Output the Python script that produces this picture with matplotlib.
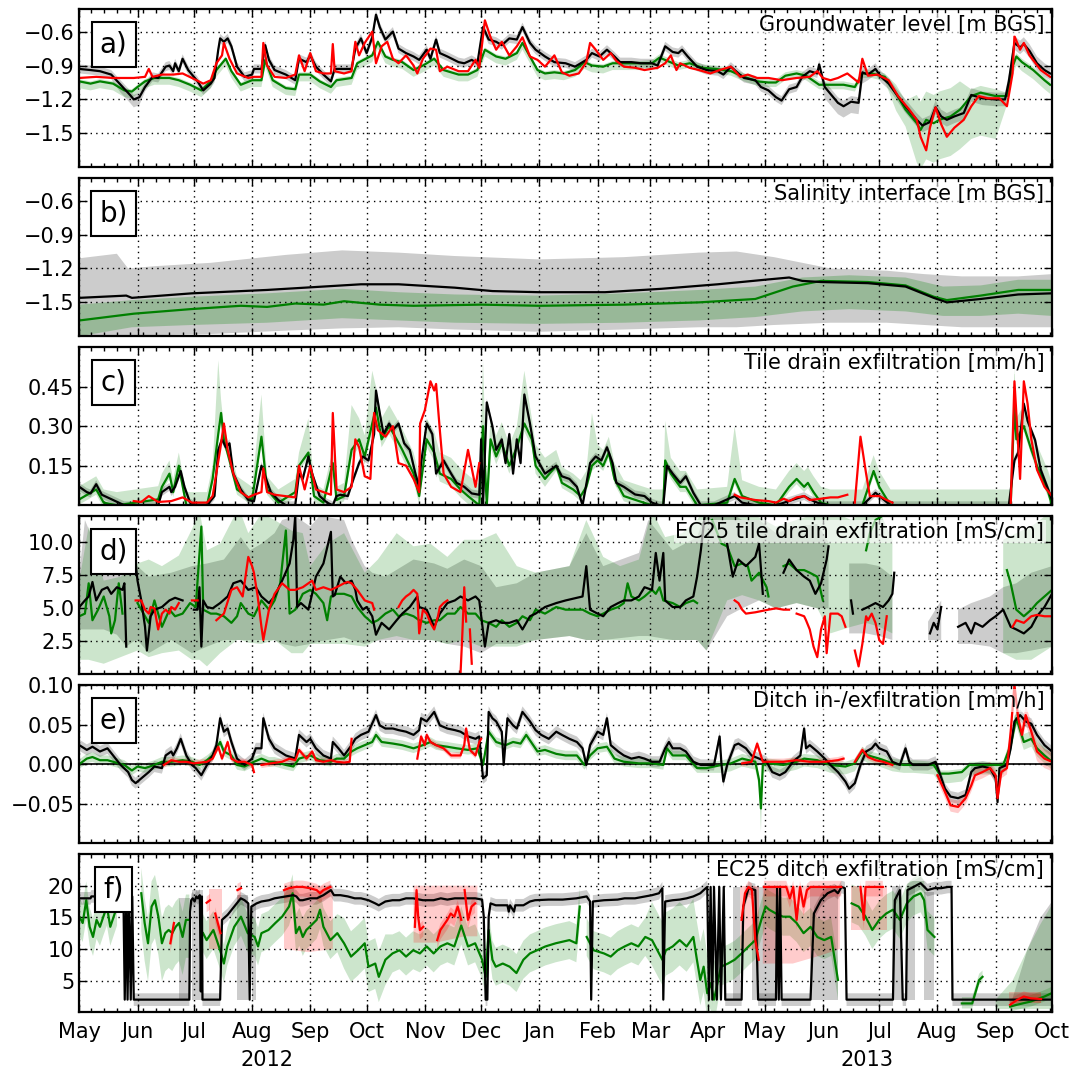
import numpy as np
import matplotlib
matplotlib.use('Agg')
import matplotlib.pyplot as plt
import matplotlib.dates as mdates
import matplotlib.transforms as mtransforms
from datetime import datetime

nan = np.nan

# ---- data: (day since 2012-05-01, value) -------------------------------
# a) groundwater level
a_black = [(0,-0.93),(6,-0.94),(11,-0.95),(17,-0.98),(22,-1.07),(27,-1.16),(29,-1.20),(32,-1.18),(35,-1.09),(39,-1.00),
           (42,-1.01),(46,-0.91),(48,-0.90),(50,-0.95),(51,-0.88),(53,-0.95),(55,-0.84),(58,-0.94),(60,-0.98),(63,-1.04),
           (66,-1.12),(68,-1.09),(70,-1.06),(72,-1.01),(74,-0.76),(75,-0.66),(77,-0.69),(79,-0.66),(81,-0.73),(84,-0.91),
           (88,-1.00),(92,-0.98),(93,-0.93),(97,-0.93),(99,-0.72),(101,-0.85),(104,-0.94),(110,-0.98),(115,-1.03),(117,-0.84),
           (121,-0.87),(123,-0.81),(126,-0.91),(130,-0.98),(134,-1.04),(136,-0.93),(141,-0.93),(145,-0.93),(147,-0.75),(150,-0.66),
           (153,-0.79),(156,-0.65),(158,-0.45),(160,-0.56),(163,-0.67),(167,-0.60),(170,-0.75),(174,-0.79),(178,-0.82),(181,-0.85),
           (185,-0.76),(187,-0.84),(190,-0.67),(192,-0.79),(196,-0.82),(202,-0.87),(205,-0.88),(209,-0.85),(212,-0.88),(215,-0.56),
           (218,-0.67),(222,-0.69),(225,-0.72),(229,-0.66),(233,-0.67),(236,-0.56),(240,-0.70),(243,-0.76),(248,-0.82),(253,-0.87),
           (259,-0.88),(264,-0.91),(270,-0.85),(273,-0.79),(277,-0.82),(281,-0.76),(285,-0.82),(288,-0.87),(294,-0.87),(299,-0.88),
           (305,-0.88),(308,-0.90),(312,-0.73),(316,-0.78),(319,-0.79),(321,-0.76),(324,-0.82),(329,-0.91),(334,-0.94),(340,-0.95),
           (343,-0.98),(347,-0.91),(351,-0.97),(354,-1.01),(360,-1.03),(363,-1.09),(367,-1.12),(371,-1.18),(374,-1.21),(378,-1.11),
           (382,-1.09),(385,-1.00),(389,-0.95),(393,-0.97),(394,-0.89),(397,-1.09),(400,-1.15),(404,-1.23),(407,-1.26),(411,-1.22),
           (415,-1.23),(417,-0.96),(420,-0.98),(424,-0.93),(427,-1.00),(431,-1.06),(435,-1.15),(440,-1.26),(446,-1.38),(449,-1.43),
           (453,-1.40),(456,-1.27),(459,-1.35),(462,-1.38),(466,-1.35),(471,-1.32),(475,-1.16),(481,-1.19),(488,-1.20),(493,-1.20),
           (495,-1.04),(498,-0.70),(501,-0.74),(503,-0.71),(506,-0.77),(510,-0.88),(514,-0.94),(517,-0.97)]
a_red = [(0,-1.01),(9,-1.00),(18,-1.01),(29,-1.01),(35,-1.00),(37,-0.93),(39,-1.00),(44,-0.98),(50,-0.98),(55,-0.97),
         (60,-1.01),(66,-1.06),(70,-1.03),(73,-0.88),(76,-0.81),(77,-0.70),(80,-0.84),(84,-0.97),(90,-1.01),(93,-1.00),
         (97,-1.00),(98,-0.70),(100,-0.90),(104,-1.00),(110,-1.01),(115,-0.98),(117,-0.81),(120,-0.95),(123,-0.79),(126,-0.95),
         (130,-0.97),(134,-0.97),(135,-0.71),(136,-0.95),(141,-0.97),(145,-0.95),(147,-0.69),(149,-0.81),(152,-0.70),(156,-0.60),
         (158,-0.88),(161,-0.73),(164,-0.69),(167,-0.84),(170,-0.88),(174,-0.81),(178,-0.90),(180,-0.97),(183,-0.84),(187,-0.75),
         (190,-0.76),(192,-0.95),(196,-0.91),(202,-0.95),(207,-0.95),(211,-0.85),(213,-0.92),(216,-0.50),(219,-0.65),(222,-0.76),
         (225,-0.69),(229,-0.81),(233,-0.73),(236,-0.65),(240,-0.82),(244,-0.85),(248,-0.91),(253,-0.81),(257,-0.96),(261,-0.99),
         (266,-0.97),(270,-0.87),(272,-0.70),(275,-0.76),(279,-0.85),(283,-0.79),(286,-0.86),(290,-0.91),(296,-0.92),(301,-0.94),
         (308,-0.92),(312,-0.88),(315,-0.81),(318,-0.94),(320,-0.88),(325,-0.92),(330,-0.94),(336,-0.97),(341,-0.94),(347,-0.91),
         (352,-1.00),(356,-0.98),(361,-1.01),(367,-1.01),(374,-1.03),(382,-1.01),(389,-1.00),(393,-0.95),(396,-1.01),(400,-1.03),
         (404,-1.01),(409,-0.97),(415,-1.05),(417,-0.84),(420,-0.99),(425,-0.98),(431,-1.03),(436,-1.17),(442,-1.29),(446,-1.38),
         (448,-1.53),(451,-1.65),(453,-1.45),(456,-1.27),(459,-1.42),(462,-1.53),(466,-1.45),(471,-1.38),(475,-1.26),(479,-1.17),
         (484,-1.19),(490,-1.19),(494,-1.26),(497,-0.97),(498,-0.64),(501,-0.76),(503,-0.70),(506,-0.81),(512,-0.94),(517,-1.00)]
a_green = [(0,-1.04),(6,-1.06),(11,-1.04),(18,-1.06),(24,-1.12),(28,-1.13),(31,-1.09),(35,-1.04),(40,-1.01),(48,-1.01),
           (53,-1.03),(59,-1.07),(65,-1.12),(70,-1.04),(73,-0.94),(78,-0.84),(81,-0.95),(86,-1.07),(92,-1.03),(97,-1.03),
           (99,-0.85),(103,-1.03),(110,-1.10),(115,-1.11),(117,-0.98),(123,-0.98),(128,-1.04),(134,-1.09),(137,-1.03),(145,-1.01),
           (148,-0.88),(156,-0.81),(159,-0.69),(163,-0.82),(167,-0.85),(172,-0.87),(178,-0.94),(183,-0.90),(189,-0.84),(194,-0.94),
           (202,-0.98),(207,-0.98),(212,-0.94),(216,-0.76),(222,-0.82),(227,-0.84),(233,-0.79),(236,-0.70),(240,-0.82),(244,-0.94),
           (248,-0.97),(253,-0.96),(258,-0.97),(264,-0.94),(269,-0.87),(273,-0.90),(279,-0.91),(284,-0.88),(290,-0.88),(299,-0.88),
           (305,-0.88),(309,-0.83),(319,-0.90),(325,-0.88),(332,-0.92),(339,-0.93),(347,-0.95),(354,-1.00),(361,-1.04),(367,-1.05),
           (371,-1.05),(376,-0.99),(382,-0.97),(387,-0.99),(394,-1.07),(400,-1.07),(407,-1.07),(413,-1.09),(417,-0.97),(422,-0.97),
           (429,-1.00),(435,-1.15),(440,-1.29),(446,-1.41),(448,-1.47),(451,-1.38),(455,-1.41),(458,-1.38),(464,-1.35),(469,-1.29),
           (475,-1.17),(480,-1.14),(488,-1.17),(494,-1.17),(497,-0.91),(499,-0.82),(502,-0.87),(508,-0.94),(514,-1.03),(517,-1.07)]
# spread tables: (from day, below, above)
a_black_sd = [(0,0.04,0.04),(20,0.07,0.04),(35,0.04,0.04),(395,0.10,0.05),(418,0.05,0.05),(440,0.06,0.06)]
a_green_sd = [(0,0.06,0.02),(300,0.04,0.03),(430,0.15,0.08),(442,0.35,0.25),(470,0.38,0.06),(494,0.08,0.03)]

# b) salinity interface
b_black = [(0,-1.46),(25,-1.44),(28,-1.46),(60,-1.42),(100,-1.39),(130,-1.36),(150,-1.34),(170,-1.34),(200,-1.37),(220,-1.40),
           (245,-1.41),(280,-1.41),(310,-1.38),(340,-1.34),(365,-1.30),(378,-1.28),(385,-1.31),(395,-1.32),(420,-1.33),(440,-1.36),
           (455,-1.46),(462,-1.50),(480,-1.47),(500,-1.43),(518,-1.42)]
b_green = [(0,-1.66),(29,-1.60),(59,-1.56),(86,-1.53),(100,-1.54),(115,-1.51),(130,-1.52),(141,-1.49),(160,-1.52),(178,-1.53),
           (214,-1.52),(245,-1.53),(290,-1.52),(330,-1.50),(360,-1.47),(380,-1.36),(395,-1.31),(420,-1.32),(440,-1.35),(455,-1.45),
           (462,-1.48),(480,-1.44),(500,-1.39),(518,-1.39)]
b_gray_band = [(0,-1.82,-1.11),(20,-1.82,-1.07),(26,-1.80,-1.20),(40,-1.79,-1.18),(70,-1.78,-1.15),(110,-1.75,-1.08),
               (140,-1.73,-1.04),(170,-1.72,-1.06),(200,-1.74,-1.09),(245,-1.76,-1.12),(290,-1.74,-1.10),(330,-1.72,-1.06),
               (350,-1.72,-1.05),(370,-1.70,-1.10),(400,-1.68,-1.20),(430,-1.68,-1.22),(450,-1.70,-1.25),(470,-1.72,-1.27),
               (500,-1.72,-1.27),(518,-1.72,-1.25)]
b_green_band = [(0,-1.80,-1.52),(28,-1.72,-1.48),(60,-1.70,-1.45),(100,-1.68,-1.42),(140,-1.64,-1.38),(170,-1.66,-1.41),
                (200,-1.68,-1.43),(245,-1.69,-1.44),(290,-1.68,-1.42),(330,-1.66,-1.39),(360,-1.63,-1.36),(385,-1.58,-1.28),
                (410,-1.56,-1.26),(440,-1.58,-1.28),(460,-1.62,-1.36),(480,-1.62,-1.35),(500,-1.60,-1.30),(518,-1.62,-1.30)]

# c) tile drain exfiltration
c_black = [(0,0.07),(4,0.05),(6,0.045),(9,0.08),(12,0.04),(15,0.03),(18,0.02),(21,0.01),(24,0),(42,0),(44,0.05),(48,0.07),
           (49,0.05),(51,0.07),(54,0.13),(56,0.07),(59,0.01),(62,0),(68,0),(72,0.035),(74,0.21),(76,0.25),(78,0.22),(80,0.235),
           (82,0.12),(86,0.06),(90,0.02),(93,0.015),(97,0.15),(99,0.11),(102,0.05),(106,0.02),(110,0),(115,0),(117,0.12),
           (119,0.10),(122,0.185),(124,0.12),(128,0.035),(132,0.01),(135,0),(137,0.035),(139,0.04),(143,0.035),(146,0.10),
           (149,0.16),(151,0.185),(154,0.17),(157,0.27),(158,0.435),(160,0.35),(162,0.27),(165,0.31),(167,0.285),(170,0.31),
           (173,0.235),(176,0.21),(179,0.12),(181,0.07),(182,0.16),(185,0.31),(188,0.27),(190,0.12),(194,0.17),(198,0.12),
           (201,0.085),(205,0.07),(209,0.045),(213,0.04),(214,0.25),(215,0),(217,0.39),(220,0.30),(222,0.21),(225,0.25),
           (227,0.16),(229,0.27),(231,0.12),(233,0.25),(235,0.16),(237,0.42),(240,0.31),(243,0.185),(248,0.12),(254,0.15),
           (257,0.11),(261,0.10),(265,0.07),(268,0),(272,0.16),(275,0.185),(278,0.17),(281,0.22),(284,0.16),(286,0.085),
           (290,0.07),(296,0.041),(301,0.035),(305,0.01),(309,0),(311,0),(313,0.15),(316,0.12),(320,0.085),(323,0.11),
           (327,0.0475),(331,0),(338,0),(349,0.035),(353,0.01),(360,0),(371,0),(386,0.035),(389,0.0225),(393,0.01),(399,0),
           (417,0),(424,0.0475),(432,0),(495,0),(498,0.17),(500,0.20),(503,0.385),(505,0.32),(509,0.2475),(512,0.135),
           (516,0.06),(518,0.02)]
c_green = [(0,0.0225),(9,0.06),(13,0.01),(20,0),(42,0.0225),(44,0.07),(48,0.12),(50,0.05),(53,0.15),(57,0),(68,0),(71,0.10),
           (74,0.27),(75.5,0.35),(77,0.25),(80,0.17),(84,0.06),(92,0.02),(97,0.26),(100,0.06),(106,0.01),(115,0.05),(117,0.15),
           (122,0.20),(125,0.035),(130,0.01),(135,0.16),(137,0.02),(141,0.035),(145,0.21),(149,0.25),(152,0.185),(156,0.31),
           (158,0.37),(161,0.25),(165,0.30),(169,0.25),(172,0.21),(178,0.12),(181,0.035),(185,0.25),(189,0.20),(192,0.12),
           (198,0.10),(203,0.06),(207,0.035),(213,0),(215,0.30),(217,0),(219,0.25),(222,0.185),(225,0.235),(229,0.15),(233,0.22),
           (237,0.31),(241,0.25),(243,0.15),(248,0.10),(254,0.15),(257,0.085),(263,0.06),(267,0.035),(270,0.07),(273,0.15),
           (276,0.17),(279,0.15),(282,0.20),(285,0.10),(290,0.035),(298,0.016),(305,0),(311,0),(312,0.17),(315,0.12),(320,0.07),
           (323,0.07),(329,0),(345,0.01),(349,0.10),(353,0.035),(362,0.01),(371,0),(378,0.07),(382,0.10),(386,0.07),(388,0.085),
           (391,0.05),(395,0.01),(400,0),(417,0),(423,0.13),(426,0.07),(432,0),(496,0),(498,0.385),(499,0.25),(503,0.30),
           (507,0.21),(510,0.15),(516,0.05),(518,0)]
c_red = [(29,0.016),(33,0.0125),(37,0.035),(42,0.0125),(49,0.016),(55,0.03),(60,0.01),(68,0.01),(71,0.035),(75,0.21),
         (77,0.31),(79,0.21),(82,0.12),(86,0.05),(90,0.03),(93,0.04),(97,0.05),(98,0.14),(100,0.05),(104,0.04),(115,0.03),
         (117,0.15),(120,0.06),(123,0.15),(126,0.06),(134,0.04),(135,0.35),(137,0.06),(141,0.05),(145,0.07),(147,0.25),
         (149,0.22),(152,0.11),(155,0.10),(157,0.35),(159,0.285),(163,0.26),(167,0.30),(170,0.16),(174,0.15),(178,0.10),
         (181,0.05),(181.5,0.31),(184,0.36),(187,0.47),(189,0.435),(190,0.46),(192,0.285),(194,0.12),(198,0.07),(203,0.05),
         (207,0.21),(211,0.07),(213,0.16),(214,nan),(349,0.04),(352,0.03),(360,0.02),(367,0.016),(371,0.01),(375,0.025),
         (378,0.016),(382,0.03),(386,0.035),(389,0.02),(395,0.025),(400,0.03),(404,0.03),(409,0.04),(410,nan),(413,0.01),
         (416,0.26),(419,0.12),(421,0.035),(426,0.035),(430,0.02),(433,0.01),(434,nan),(496,0),(498,0.47),(499,0.35),
         (501,0.10),(503,0.47),(505,0.385),(507,0.25),(510,0.135),(514,0.07),(518,0.035)]
c_black_sd = [(0,0.015,0.015)]
c_green_sd = [(0,0.02,0.05),(74,0.02,0.28),(75,0.02,0.05),(97,0.02,0.16),(98,0.02,0.05),(122,0.02,0.13),(123,0.02,0.05),
              (145,0.03,0.17),(146,0.03,0.08),(156,0.03,0.20),(157,0.03,0.08),(215,0.03,0.25),(216,0.03,0.08),
              (237,0.03,0.20),(238,0.03,0.08),(250,0.02,0.06),(273,0.02,0.20),(274,0.02,0.06),(312,0.02,0.15),
              (313,0.02,0.06),(349,0.02,0.20),(350,0.02,0.06),(498,0.02,0.15),(499,0.02,0.08)]

# d) EC25 tile drain exfiltration
d_black = [(0,5.1),(3,5.6),(5,5.9),(7,7.0),(9,5.6),(12,6.4),(15,6.6),(17,6.1),(20,6.6),(23,6.4),(24,6.9),(25,2.1),(26,nan),
           (30,8.4),(31,7.1),(33,5.6),(35,3.6),(36,1.8),(38,4.4),(40,4.9),(44,5.1),(48,5.6),(51,5.8),(55,5.6),(56,nan),
           (61,4.9),(63,4.9),(64,6.6),(65,2.1),(66,5.6),(68,5.1),(71,5.0),(75,5.4),(79,5.9),(82,6.9),(86,7.1),(90,6.4),
           (94,6.6),(97,5.9),(101,5.4),(104,5.9),(108,7.1),(112,8.4),(114,10.2),(115,12.0),(116,5.1),(118,5.4),(122,4.9),
           (124,6.1),(126,7.4),(130,8.4),(134,10.8),(135,5.9),(136,6.0),(139,7.4),(142,6.9),(145,7.1),(147,6.4),(148,5.6),
           (151,4.9),(153,5.1),(156,4.4),(158,3.0),(161,3.9),(165,3.4),(169,4.1),(172,4.6),(176,5.1),(180,5.9),(181,5.1),
           (185,4.9),(189,3.6),(192,4.6),(196,5.4),(200,5.6),(203,5.9),(207,5.6),(211,5.9),(213,5.6),(216,2.1),(218,3.9),
           (222,4.1),(225,3.9),(229,3.9),(233,4.1),(236,3.4),(240,4.4),(243,4.6),(248,5.1),(254,5.4),(259,5.6),(265,5.8),
           (268,5.9),(270,8.2),(272,4.9),(276,4.6),(279,4.4),(283,5.1),(287,5.4),(290,5.6),(294,5.6),(298,5.9),(301,6.6),
           (305,6.4),(307,9.2),(309,7.1),(311,9.2),(312,5.6),(316,5.1),(320,5.1),(323,5.6),(327,5.9),(329,7.4),(331,9.4),
           (333,12.0),(334,nan),(345,9.9),(348,7.4),(351,8.7),(355,8.2),(360,8.9),(362,9.9),(364,6.1),(365,nan),(375,7.7),
           (378,8.7),(382,7.9),(386,7.4),(389,7.1),(392,6.1),(395,6.9),(398,8.7),(399,9.7),(400,nan),(411,5.6),(412,4.6),
           (413,nan),(417,4.9),(420,5.1),(424,5.4),(428,5.1),(431,5.6),(433,6.1),(434,7.7),(435,nan),(453,3.1),(455,3.9),
           (457,3.4),(459,5.1),(460,nan),(468,3.6),(472,3.9),(475,3.1),(477,3.9),(481,3.6),(485,4.1),(488,4.4),(492,4.9),
           (496,3.6),(499,3.4),(503,3.1),(507,3.6),(510,4.4),(514,5.1),(518,6.1)]
d_green = [(0,4.4),(3,4.6),(5,6.9),(7,4.1),(10,4.9),(13,5.9),(16,4.4),(17,3.1),(19,4.1),(21,6.9),(23,4.6),(24,nan),(31,5.4),
           (33,4.9),(37,3.9),(40,5.6),(44,3.6),(48,4.9),(51,4.4),(55,4.6),(59,5.4),(62,5.1),(65,11.2),(66,4.9),(70,4.6),
           (73,4.6),(77,4.4),(81,3.9),(84,4.4),(86,5.4),(90,4.6),(93,4.4),(97,5.6),(101,4.9),(104,5.6),(107,6.9),(110,10.9),
           (112,4.6),(115,4.9),(119,6.1),(123,6.4),(126,6.1),(130,5.4),(132,4.1),(134,5.9),(137,6.1),(141,6.1),(145,5.9),
           (148,5.1),(152,4.4),(156,3.9),(159,4.1),(163,4.6),(167,4.9),(170,4.4),(174,4.6),(178,4.4),(181,4.1),(185,3.9),
           (189,4.1),(192,4.1),(196,4.6),(200,4.6),(203,5.1),(207,4.6),(211,4.6),(214,4.1),(218,3.9),(222,3.6),(225,4.1),
           (229,3.6),(233,3.9),(236,4.4),(240,4.1),(243,4.9),(248,4.6),(254,5.1),(259,4.9),(265,4.9),(268,4.9),(272,4.6),
           (276,4.4),(279,4.6),(283,4.9),(287,5.1),(290,5.4),(292,6.9),(294,5.9),(298,5.6),(301,5.9),(305,6.4),(307,6.1),
           (309,6.6),(311,5.6),(316,5.4),(320,5.1),(323,5.4),(327,5.6),(329,5.4),(330,nan),(337,11.7),(342,9.9),(345,9.7),
           (349,8.2),(353,8.4),(356,8.2),(358,7.1),(362,7.7),(366,6.6),(367,5.9),(368,nan),(375,8.2),(378,8.4),(382,7.9),
           (386,7.9),(389,7.7),(393,7.4),(396,5.6),(397,nan),(419,9.4),(421,10.7),(424,11.7),(430,12.2),(431,nan),(494,7.9),
           (496,6.9),(499,4.9),(503,4.4),(507,4.9),(510,5.4),(514,5.9),(518,6.4)]
d_red = [(30,5.6),(33,5.6),(35,4.9),(37,4.6),(38,5.1),(40,5.0),(42,3.4),(44,4.6),(46,4.9),(48,4.6),(49,5.1),(51,4.9),(53,5.4),
         (54,nan),(60,5.6),(63,5.6),(64,nan),(73,4.1),(77,4.6),(81,6.4),(84,6.6),(87,5.9),(90,8.9),(92,8.2),(93,7.7),(95,5.9),
         (97,3.6),(98,2.6),(101,4.9),(104,6.1),(108,6.9),(112,6.4),(115,6.4),(119,6.6),(122,6.9),(124,7.1),(126,6.4),(130,6.6),
         (134,6.4),(137,6.6),(141,6.9),(143,7.0),(145,6.9),(148,6.4),(152,5.6),(156,5.4),(157,4.9),(158,nan),(170,5.1),
         (172,5.6),(174,5.9),(176,6.1),(178,6.4),(180,6.1),(181,3.1),(183,4.9),(185,4.6),(187,3.9),(189,3.4),(191,4.4),
         (192,5.1),(194,5.4),(196,5.6),(197,nan),(203,0.0),(204,3.1),(205,6.6),(206,4.0),(207,nan),(208,3.4),(209,0.8),
         (210,nan),(349,5.6),(351,5.4),(353,4.9),(355,4.6),(360,4.7),(367,4.9),(371,5.0),(375,4.9),(378,4.9),(379,nan),
         (382,4.6),(386,4.4),(387,4.1),(389,3.4),(391,2.1),(393,1.3),(395,3.4),(397,4.4),(398,1.6),(400,4.6),(404,4.6),
         (406,4.4),(408,3.6),(409,nan),(413,1.8),(415,0.6),(417,2.3),(419,4.4),(420,4.1),(422,4.6),(424,3.9),(426,2.6),
         (428,2.3),(430,4.4),(431,nan),(497,3.6),(499,4.1),(503,3.9),(507,4.4),(510,4.5),(514,4.4),(518,4.4)]
d_gray_band = [(0,3.4,7.6),(3,3.4,11.7),(13,3.4,8.2),(20,3.0,8.4),(25,2.1,9.9),(30,2.6,10.4),(31,2.6,8.2),(37,1.6,7.4),
               (49,2.6,7.7),(60,1.6,8.2),(68,2.1,8.4),(77,2.6,8.7),(86,2.6,10.4),(91,2.6,9.4),(97,2.6,9.9),(104,2.6,10.7),
               (108,2.3,11.7),(115,2.1,12.0),(123,2.3,11.2),(128,2.5,12.0),(141,2.8,11.7),(145,2.6,10.2),(152,2.3,8.2),
               (156,2.5,7.7),(163,2.6,7.4),(178,2.6,8.7),(189,2.6,8.4),(196,2.3,8.0),(205,2.1,8.7),(214,1.6,8.2),
               (222,2.3,6.6),(233,2.3,6.9),(243,2.6,7.7),(261,2.9,8.2),(270,2.6,10.7),(279,2.6,8.2),(298,2.9,9.2),
               (303,2.9,11.7),(316,2.6,9.4),(329,2.6,10.4),(334,1.8,12.4),(345,4.4,12.4),(353,5.0,11.7),(362,5.6,11.7),
               (371,5.0,10.7),(382,5.4,11.2),(393,5.0,11.4),(399,5.0,10.0),(401,nan,nan),(410,3.1,8.4),(419,3.1,8.4),
               (426,2.9,8.2),(433,2.6,7.4),(435,nan,nan),(452,2.6,4.0),(459,2.6,5.6),(460,nan,nan),(468,2.3,4.9),
               (475,2.3,5.4),(485,2.1,5.9),(492,1.6,6.6),(499,1.6,6.9),(507,1.8,7.7),(518,2.1,8.2)]
d_green_band = [(0,1.1,7.1),(5,1.1,11.2),(13,0.8,7.1),(22,1.3,7.4),(31,1.8,8.4),(37,1.3,8.7),(44,1.6,8.2),(53,1.8,9.0),
                (60,1.1,11.0),(64,1.1,12.4),(68,0.6,9.4),(75,1.6,9.9),(84,2.6,12.4),(86,2.6,12.2),(90,2.4,10.7),
                (97,2.3,12.2),(104,2.6,11.7),(113,1.6,10.9),(119,1.6,10.7),(123,2.3,8.2),(132,2.3,9.9),(141,2.3,10.7),
                (152,2.1,7.7),(159,2.6,8.7),(169,2.9,10.7),(178,2.6,9.7),(187,2.6,9.9),(196,2.3,8.9),(205,2.6,10.2),
                (214,2.1,10.2),(222,2.1,10.7),(233,2.1,8.2),(243,2.6,7.7),(261,2.9,8.2),(270,2.6,11.7),(279,2.6,8.9),
                (288,2.6,8.2),(298,2.6,8.7),(305,2.6,12.4),(312,2.6,10.4),(321,2.6,10.7),(329,2.6,11.7),(334,1.8,12.7),
                (345,5.6,12.7),(353,6.0,12.2),(362,5.6,11.9),(371,5.0,11.2),(382,5.4,11.7),(393,5.0,12.2),(400,3.1,12.4),
                (411,3.6,11.7),(419,3.9,12.4),(426,3.6,12.4),(433,3.1,10.2),(435,nan,nan),(492,1.6,10.2),(499,1.1,10.7),
                (507,1.1,11.2),(518,2.1,12.4)]

# e) ditch in-/exfiltration
e_black = [(0,0.024),(4,0.018),(7,0.022),(11,0.016),(15,0.02),(18,0.011),(22,-0.001),(26,-0.01),(28,-0.02),(30,-0.024),
           (33,-0.018),(37,-0.01),(40,-0.003),(44,-0.005),(46,0.011),(49,0.016),(50,0.011),(52,0.02),(54,0.032),(57,0.011),
           (60,-0.001),(62,-0.005),(65,-0.014),(68,-0.001),(71,0.011),(73,0.024),(75,0.058),(77,0.041),(79,0.045),(81,0.028),
           (84,0.007),(88,-0.001),(92,0.007),(94,0.02),(97,0.02),(98,0.058),(101,0.032),(104,0.02),(110,0.011),(115,0.007),
           (117,0.037),(121,0.028),(123,0.032),(126,0.02),(130,0.011),(134,0.007),(135,0.028),(138,0.02),(141,0.011),
           (145,0.024),(147,0.032),(150,0.037),(154,0.041),(158,0.062),(160,0.049),(163,0.045),(167,0.045),(170,0.043),
           (174,0.041),(178,0.037),(181,0.043),(182,0.058),(185,0.054),(189,0.066),(192,0.049),(196,0.045),(200,0.043),
           (203,0.041),(207,0.035),(211,0.032),(213,0.035),(215,-0.018),(217,-0.014),(218,0.066),(220,0.058),(222,0.054),
           (225,0.041),(226,-0.001),(228,0.058),(231,0.049),(233,0.045),(236,0.066),(240,0.054),(243,0.043),(246,0.037),
           (250,0.032),(254,0.041),(257,0.037),(261,0.032),(265,0.028),(268,0.02),(270,-0.001),(272,0.024),(276,0.041),
           (279,0.037),(281,0.058),(283,0.024),(287,0.016),(290,0.011),(294,0.007),(298,0.009),(301,0.007),(305,0.003),
           (309,0.003),(312,0.02),(314,0.028),(316,0.02),(320,0.02),(323,0.016),(327,0.003),(331,-0.001),(334,-0.001),
           (338,-0.001),(341,0.035),(342,-0.001),(343,-0.022),(345,-0.001),(349,0.024),(351,0.026),(355,0.02),(358,0.011),
           (362,0.007),(366,0.003),(369,-0.01),(373,-0.014),(376,-0.01),(380,0.003),(384,0.011),(386,0.045),(387,0.02),
           (389,0.024),(393,0.016),(397,0.007),(400,-0.001),(404,-0.01),(408,-0.022),(410,-0.031),(413,-0.024),(416,-0.001),
           (419,0.016),(422,0.02),(424,0.026),(426,0.02),(430,0.016),(433,0.003),(437,-0.001),(440,0.02),(442,0.003),
           (444,-0.001),(452,-0.001),(456,0.003),(458,-0.01),(461,-0.031),(464,-0.041),(468,-0.043),(472,-0.039),(475,-0.01),
           (477,-0.005),(481,-0.003),(485,-0.005),(488,-0.018),(489,-0.048),(490,-0.005),(494,-0.001),(496,0.02),(498,0.054),
           (501,0.062),(504,0.054),(507,0.051),(510,0.037),(514,0.024),(518,0.016)]
e_green = [(0,0.0),(4,0.007),(7,0.009),(11,0.005),(15,0.005),(18,0.003),(24,-0.001),(28,-0.008),(31,-0.003),(35,-0.005),
           (40,-0.001),(44,0.003),(49,0.003),(55,0.005),(60,0.003),(64,-0.001),(68,0.005),(71,0.011),(75,0.028),(77,0.016),
           (81,0.011),(84,-0.001),(88,-0.003),(93,0.003),(97,0.007),(101,0.003),(104,0.003),(110,-0.001),(114,-0.003),
           (117,0.007),(123,0.011),(128,0.005),(134,0.003),(137,0.007),(141,0.007),(145,0.016),(148,0.02),(152,0.024),
           (156,0.028),(158,0.037),(161,0.028),(167,0.026),(172,0.024),(178,0.02),(183,0.024),(187,0.028),(190,0.024),
           (196,0.022),(201,0.02),(207,0.018),(212,0.02),(215,-0.001),(218,0.041),(222,0.028),(227,0.024),(231,0.028),
           (235,0.026),(238,0.037),(244,0.016),(248,0.018),(254,0.013),(259,0.011),(265,0.011),(269,-0.001),(272,0.011),
           (276,0.02),(281,0.022),(285,0.007),(290,0.003),(298,0.001),(305,0.001),(311,-0.001),(313,0.02),(316,0.011),
           (323,0.011),(329,-0.005),(334,-0.005),(342,-0.001),(347,0.001),(353,0.007),(360,0.003),(362,-0.02),(363,-0.056),
           (364,-0.001),(367,0.001),(375,-0.001),(382,0.003),(386,0.007),(393,0.005),(400,-0.001),(408,-0.003),(413,0.001),
           (417,0.016),(420,0.011),(426,0.007),(433,0.001),(439,-0.001),(444,-0.001),(455,-0.001),(458,-0.012),(463,-0.012),
           (470,-0.01),(474,-0.001),(481,-0.001),(488,-0.001),(492,-0.001),(496,0.024),(499,0.058),(503,0.028),(507,0.032),
           (510,0.02),(514,0.011),(518,0.003)]
e_red = [(45,-0.001),(49,0.005),(53,0.003),(57,0.003),(61,0.001),(68,0.003),(71,0.007),(74,0.022),(76,0.007),(79,0.028),
         (81,0.007),(84,0.003),(88,0.003),(92,-0.001),(93,-0.01),(94,nan),(97,-0.001),(102,0.001),(108,0.003),(112,0.007),
         (115,0.005),(117,0.018),(121,0.007),(124,0.016),(126,0.005),(130,0.003),(134,0.005),(137,0.003),(141,0.002),
         (144,0.003),(145,0.032),(146,nan),(180,0.007),(182,0.035),(184,0.024),(185,0.037),(187,0.028),(190,0.024),
         (194,0.02),(198,0.011),(203,0.011),(205,0.024),(206,0.045),(208,0.018),(211,0.011),(213,0.028),(214,0.032),
         (215,nan),(353,0.001),(358,0.003),(361,0.026),(364,0.003),(369,0.003),(375,0.003),(382,0.005),(389,0.003),
         (397,0.003),(404,0.005),(407,0.007),(408,nan),(413,0.003),(417,0.018),(420,0.009),(424,0.005),(428,0.003),
         (433,-0.001),(434,nan),(457,-0.014),(461,-0.035),(464,-0.052),(468,-0.054),(472,-0.043),(475,-0.027),(477,-0.014),
         (481,-0.01),(485,-0.005),(488,-0.014),(489,-0.043),(491,-0.01),(494,-0.005),(496,0.041),(498,0.10),(500,0.058),
         (502,0.037),(504,0.062),(507,0.041),(510,0.016),(514,0.007),(518,0.003)]
e_black_sd = [(0,0.007,0.007)]
e_green_sd = [(0,0.006,0.006),(340,0.01,0.006),(363,0.03,0.006),(364,0.01,0.006),(455,0.012,0.004),(495,0.01,0.01)]
e_red_sd = [(0,0.004,0.004),(455,0.008,0.008),(495,0.012,0.012)]

# f) EC25 ditch exfiltration
f_black = [(0,18.0),(6,18.0),(6.4,18.3),(12,18.3),(18,18.3),(23.5,18.3),(24.2,2.0),(25,18.8),(25.7,2.0),(26.5,18.8),
           (27.4,2.0),(28.2,18.3),(29,2.0),(58.6,2.0),(59,15.9),(59.6,17.7),(60.4,18.0),(61.4,17.5),(62.3,18.3),(63.2,18.0),
           (64.2,18.5),(64.7,3.3),(65.3,18.3),(65.6,2.0),(75,2.0),(76,14.6),(79,15.4),(82.5,16.7),(86,18.0),(88,17.7),
           (90,17.2),(90.7,2.0),(91.6,16.7),(94.4,17.2),(97,17.5),(101,17.7),(104,18.0),(110,18.3),(114,18.5),(115.6,18.3),
           (117.3,17.7),(119,17.7),(123,18.0),(126.5,18.0),(130,18.5),(134,19.3),(135.6,18.5),(139,18.5),(143,18.3),
           (146.7,18.0),(150,18.0),(154,17.7),(157.6,17.2),(159.5,16.9),(163,17.5),(166.8,17.7),(170.5,17.7),(174,18.0),
           (177.8,18.0),(183,17.7),(188.7,17.7),(192.5,18.0),(196,17.8),(200,18.0),(205,18.0),(210.8,18.0),(214.5,17.8),
           (215.4,15.1),(216.4,2.0),(217.3,2.0),(218,15.1),(219,17.2),(221.8,16.9),(225.5,16.9),(228,16.9),(228.7,15.9),
           (229.4,16.9),(231.5,15.9),(232.2,16.9),(236.5,16.9),(240,17.5),(242.7,17.7),(250,17.8),(257.4,17.8),(264.7,18.0),
           (270.2,18.3),(272,17.5),(272.6,2.0),(273.5,17.5),(279.4,17.7),(286.7,17.8),(290.4,18.0),(295.9,18.0),(301.4,18.3),
           (305,18.5),(308.7,18.8),(310.5,19.6),(311,2.0),(312,17.5),(316,17.7),(319.7,17.8),(323.4,18.0),(327,18.3),
           (330.7,18.8),(332.5,19.3),(334.4,19.8),(335.3,2.0),(336.2,19.8),(337.1,2.0),(338,19.8),(339.5,2.0),(340.8,19.8),
           (341.7,2.0),(343.2,19.8),(344,2.0),(352.7,2.0),(353.6,16.7),(356.4,19.6),(360,19.3),(361.5,2.0),(371,2.0),
           (371.6,19.8),(372.5,2.0),(373.2,19.8),(374,2.0),(389.4,2.0),(391.2,15.6),(394.9,17.7),(398.5,18.8),(402.2,19.3),
           (404,18.8),(405.9,19.8),(407.7,19.6),(408.6,2.0),(433.3,2.0),(434.3,17.7),(437,19.3),(438.5,2.0),(440.3,2.0),
           (441,19.3),(444.3,19.8),(448,20.4),(451.7,19.3),(455.4,19.6),(459,19.6),(462.7,19.8),(464.5,19.8),(465,2.0),
           (490,2.0),(518,2.0)]
f_green = [(0,15.1),(1.8,14.1),(3.7,17.7),(5.5,13.5),(7.3,11.9),(9.2,14.6),(11,13.5),(12.8,15.1),(14.7,16.7),(16.5,13.5),
           (18.3,15.1),(20.1,16.7),(21,nan),(33,18.8),(34.8,14.1),(36.6,10.9),(38.5,16.7),(40.3,17.7),(42.1,15.1),(44,10.9),
           (45.8,12.5),(47.6,13.0),(49.5,12.5),(51.3,13.5),(53.1,14.1),(55,11.9),(56.8,14.6),(58.6,14.6),(59,nan),(65.9,12.5),
           (67.8,11.4),(71.4,13.0),(75,9.8),(77,7.7),(78.8,10.4),(82.5,13.5),(86.1,15.1),(89.7,12.5),(93.4,11.9),(95.2,10.4),
           (97,12.5),(100.7,13.0),(104.4,14.1),(108,15.1),(111.7,16.7),(113.6,18.8),(115.4,12.5),(117.2,13.5),(119,11.9),
           (120.9,13.0),(122.7,13.5),(126.4,14.6),(128.2,16.2),(130,13.5),(133.7,11.4),(137.4,12.5),(141,10.9),(144.7,8.8),
           (148.4,9.8),(152,10.9),(154,7.2),(157.6,7.7),(159.5,5.6),(163,8.3),(166.8,9.3),(170.5,9.8),(174,8.8),(177.8,9.8),
           (181.4,9.3),(185,10.4),(188.7,9.3),(192.3,10.4),(196,10.9),(199.7,10.4),(203.4,13.7),(207,10.4),(210.8,10.9),
           (214.5,8.3),(216.4,5.6),(218,13.0),(220,8.3),(221.8,7.2),(225.5,7.7),(229.2,7.2),(232.8,6.2),(236.5,8.3),(240,9.3),
           (243.8,9.8),(248.2,10.4),(253.7,10.9),(261,11.4),(264.7,10.9),(266.5,16.7),(267,nan),(270.2,11.9),(273.9,9.8),
           (279.4,9.3),(283,8.8),(286.7,9.8),(290.4,10.4),(294,10.9),(297.7,10.4),(301.4,11.9),(305,11.4),(308.7,9.3),
           (310.5,8.3),(312.4,9.8),(316,10.4),(319.7,11.4),(323.4,10.4),(327,11.9),(328.9,8.3),(330.7,5.1),(332.5,7.2),
           (334.4,3.0),(336.2,4.6),(338,2.0),(341.7,7.2),(345.4,7.7),(349,8.3),(352.7,9.3),(356.4,10.4),(360,11.4),(363.7,15.1),
           (365.5,16.7),(367.4,16.2),(371,15.6),(374.7,15.1),(378.4,15.1),(382,14.1),(385.7,12.5),(389.4,13.5),(393,11.9),
           (396.7,11.4),(400.4,11.9),(404,5.1),(405,nan),(411.3,17.2),(415,16.7),(418.7,15.1),(422.3,13.0),(426,14.6),
           (429.7,15.6),(433.3,16.2),(437,14.6),(440.7,17.2),(444.3,18.3),(448,18.8),(449.9,17.7),(451.7,13.0),(455.4,11.9),
           (456,nan),(470,1.4),(475.5,1.4),(479.2,5.1),(481,5.6),(482,nan),(495.7,0.9),(499.4,1.2),(506.7,1.7),(514,2.5),
           (517.7,3.0)]
f_red = [(48.5,10.9),(50.4,14.1),(51,nan),(67.8,17.3),(69.6,17.7),(70,nan),(72.4,15.6),(75.2,12.5),(76,nan),(84.2,19.3),
         (86.1,19.6),(87,nan),(109,19.3),(111.7,19.6),(115.4,19.8),(119,19.8),(122.7,19.6),(126.4,19.3),(128.2,18.8),
         (130,19.3),(133.7,19.8),(134,nan),(178.7,13.5),(179.6,19.3),(180.5,15.0),(181.4,13.0),(183.2,13.5),(184,nan),
         (190.6,11.4),(192.3,13.0),(196,14.6),(197.8,15.6),(199.7,15.1),(201.5,16.7),(203.4,14.6),(204,nan),(205.2,19.3),
         (207,14.6),(208.9,16.7),(210.8,17.2),(211,nan),(352.7,14.6),(354.5,18.8),(356.4,19.8),(358.2,19.3),(360,11.4),
         (361.8,8.3),(362,nan),(364.6,19.8),(371,19.8),(376.5,19.8),(378.4,18.0),(380.2,19.8),(382,14.6),(383.8,19.8),
         (385.7,16.7),(387.5,19.3),(389.4,19.8),(396.7,19.8),(405.8,19.8),(406,nan),(416,19.8),(417.8,14.6),(418.7,19.8),
         (427.9,19.8),(428,nan),(495.7,1.2),(499.4,1.95),(503,2.5),(506.7,2.2),(512.2,2.1)]
f_black_sd = [(0,1.0,1.0)]
f_green_sd = [(0,3.0,3.0),(30,6.0,4.0),(60,3.0,3.0),(140,4.0,4.0),(165,3.0,3.0),(305,4.0,6.0),(340,3.0,3.0),(465,0.8,1.0)]
f_red_sd = [(0,1.5,1.0),(490,0.6,0.8)]
f_gray_blocks = [(53,2,18),(59,2,18),(59.5,nan,nan),(60,2,19.3),(66,2,19.3),(67,nan,nan),(84,2,18.5),(90,2,18.5),
                 (91,nan,nan),(92,2,17),(94,2,17),(95,nan,nan),(348,2,19.8),(352,2,19.8),(353,nan,nan),(358,2,19.8),
                 (371,2,19.8),(372,nan,nan),(389,2,20),(404,2,20),(405,nan,nan),(433,2,20),(438,2,20),(439,nan,nan),
                 (441,2,20),(445,2,20),(446,nan,nan),(450,2,19),(455,2,19),(456,nan,nan),(497,2,2.2),(505,2,10),
                 (512,2,15),(518,2,17.5)]
f_green_blocks = [(488,0.5,2),(497,0.5,5),(505,0.5,10),(512,0.5,14),(518,0.5,17)]
f_red_blocks = [(69,10,19.5),(76,10,19.5),(77,nan,nan),(109,10,20),(122,9.5,20),(135,10,20),(136,nan,nan),(178,11,20),
                (190,11,20),(205,12,20),(212,12,20),(213,nan,nan),(352,10,20),(362,10,20),(363,nan,nan),(364,7.7,20),
                (380,7.7,20),(395,9,20),(405,10,20),(406,nan,nan),(411,13,20),(430,13,20),(431,nan,nan),(495,1.4,3.2),
                (512,1.4,3.2)]

# axes settings
titles = ['Groundwater level [m BGS]', 'Salinity interface [m BGS]', 'Tile drain exfiltration [mm/h]',
          'EC25 tile drain exfiltration [mS/cm]', 'Ditch in-/exfiltration [mm/h]', 'EC25 ditch exfiltration [mS/cm]']
labels = ['a)', 'b)', 'c)', 'd)', 'e)', 'f)']
ylims = [(-1.8, -0.4), (-1.8, -0.4), (0, 0.6), (0, 12), (-0.1, 0.1), (0, 25)]
yticks = [[-1.5, -1.2, -0.9, -0.6], [-1.5, -1.2, -0.9, -0.6], [0.15, 0.30, 0.45], [2.5, 5.0, 7.5, 10.0],
          [-0.05, 0.0, 0.05, 0.10], [5, 10, 15, 20]]
yticklabels = [['\u22121.5', '\u22121.2', '\u22120.9', '\u22120.6'], ['\u22121.5', '\u22121.2', '\u22120.9', '\u22120.6'],
               ['0.15', '0.30', '0.45'], ['2.5', '5.0', '7.5', '10.0'], ['\u22120.05', '0.00', '0.05', '0.10'],
               ['5', '10', '15', '20']]
years = [(100, '2012'), (419.5, '2013')]

# ---- plotting ---------------------------------------------------------
t0 = mdates.date2num(datetime(2012, 5, 1))
GRAY, GREEN, RED = 'k', 'g', 'r'

def unz(s):
    a = np.array(s, dtype=float)
    return t0 + a[:, 0], a[:, 1]

def line(ax, s, c):
    x, y = unz(s)
    ax.plot(x, y, color=c, lw=1.6)

def band_sd(ax, s, table, c, al=0.2):
    x, y = unz(s)
    d = np.array(s, dtype=float)[:, 0]
    st = np.array([r[0] for r in table])
    i = np.clip(np.searchsorted(st, d, side='right') - 1, 0, len(table) - 1)
    lo = y - np.array([r[1] for r in table])[i]
    hi = y + np.array([r[2] for r in table])[i]
    ok = np.isfinite(lo) & np.isfinite(hi)
    ax.fill_between(x, np.where(ok, lo, 0), np.where(ok, hi, 0), where=ok, color=c, alpha=al, lw=0, edgecolor='none')

def band(ax, s, c, al=0.2):
    a = np.array(s, dtype=float)
    x, lo, hi = t0 + a[:, 0], a[:, 1], a[:, 2]
    ok = np.isfinite(lo) & np.isfinite(hi)
    ax.fill_between(x, np.where(ok, lo, 0), np.where(ok, hi, 0), where=ok, color=c, alpha=al, lw=0, edgecolor='none')

fig = plt.figure(figsize=(10.75, 10.74), dpi=100)
axs = []
for i in range(6):
    top = 9 + i * 169
    ax = fig.add_axes([79.3 / 1075, 1 - (top + 158.3) / 1074, 972.7 / 1075, 158.3 / 1074])
    axs.append(ax)

ax = axs[0]
band_sd(ax, a_black, a_black_sd, GRAY); band_sd(ax, a_green, a_green_sd, GREEN)
line(ax, a_green, GREEN); line(ax, a_black, 'k'); line(ax, a_red, RED)

ax = axs[1]
band(ax, b_gray_band, GRAY); band(ax, b_green_band, GREEN, 0.25)
line(ax, b_green, GREEN); line(ax, b_black, 'k')

ax = axs[2]
band_sd(ax, c_black, c_black_sd, GRAY); band_sd(ax, c_green, c_green_sd, GREEN)
line(ax, c_green, GREEN); line(ax, c_black, 'k'); line(ax, c_red, RED)

ax = axs[3]
band(ax, d_gray_band, GRAY); band(ax, d_green_band, GREEN)
line(ax, d_green, GREEN); line(ax, d_black, 'k'); line(ax, d_red, RED)

ax = axs[4]
band_sd(ax, e_black, e_black_sd, GRAY); band_sd(ax, e_green, e_green_sd, GREEN); band_sd(ax, e_red, e_red_sd, RED)
ax.axhline(0, color='k', lw=1.2)
line(ax, e_green, GREEN); line(ax, e_black, 'k'); line(ax, e_red, RED)

ax = axs[5]
band_sd(ax, f_black, f_black_sd, GRAY); band(ax, f_gray_blocks, GRAY)
band_sd(ax, f_green, f_green_sd, GREEN); band(ax, f_green_blocks, GREEN)
band_sd(ax, f_red, f_red_sd, RED); band(ax, f_red_blocks, RED)
line(ax, f_green, GREEN); line(ax, f_black, 'k'); line(ax, f_red, RED)

for i, ax in enumerate(axs):
    ax.set_xlim(t0, mdates.date2num(datetime(2013, 10, 1)))
    ax.set_ylim(*ylims[i])
    ax.set_yticks(yticks[i]); ax.set_yticklabels(yticklabels[i])
    ax.xaxis.set_major_locator(mdates.MonthLocator())
    ax.xaxis.set_minor_locator(mdates.WeekdayLocator(byweekday=mdates.MO))
    ax.xaxis.set_major_formatter(mdates.DateFormatter('%b'))
    ax.tick_params(which='both', direction='in', top=True, right=True, labelsize=15)
    ax.tick_params(which='major', length=6, width=1)
    ax.tick_params(which='minor', length=3, width=1)
    ax.tick_params(axis='x', pad=7)
    if i < 5:
        ax.tick_params(labelbottom=False)
    ax.grid(True, which='major', color='k', linestyle=(0, (1, 3)), lw=1)
    for sp in ax.spines.values():
        sp.set_linewidth(1.6)
    ax.text(0.992, 0.9, titles[i], transform=ax.transAxes, ha='right', va='center', fontsize=15, zorder=10,
            bbox=dict(facecolor='white', edgecolor='none', alpha=0.6, pad=1))
    ax.text(0.0354, 0.777, labels[i], transform=ax.transAxes, ha='center', va='center', fontsize=20, zorder=11,
            bbox=dict(boxstyle='square,pad=0.3', facecolor='white', edgecolor='k', lw=1.5))

trans = mtransforms.blended_transform_factory(axs[5].transData, axs[5].transAxes)
for d, yr in years:
    axs[5].text(t0 + d, -0.30, yr, transform=trans, ha='center', va='center', fontsize=15)

fig.savefig('out.png', dpi=100, facecolor='white')
